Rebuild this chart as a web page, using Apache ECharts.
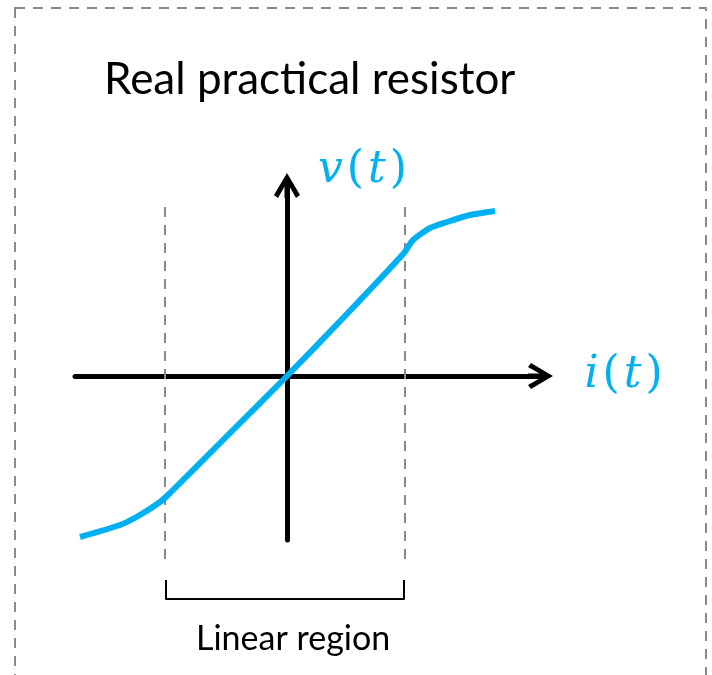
<!DOCTYPE html>
<html>
<head>
<meta charset="utf-8">
<script src="https://cdn.jsdelivr.net/npm/echarts@6/dist/echarts.min.js"></script>
<style>
  html, body { margin: 0; padding: 0; background: #fff; }
  #chart { width: 712px; height: 675px; }
</style>
</head>
<body>
<div id="chart"></div>
<script>
// i-v characteristic (arbitrary units, origin at the axes crossing)
const curveI = [-2.07, -1.67, -1.47, -1.27, -1.17, -0.62, 0, 0.58, 1.17, 1.26, 1.43, 1.60, 1.83, 2.08];
const curveV = [-1.61, -1.49, -1.39, -1.26, -1.17, -0.62, 0, 0.60, 1.23, 1.36, 1.48, 1.54, 1.61, 1.65];

// limits of the linear region (dashed guides) and their vertical span
const regionI = [-1.22, 1.18];
const guideV = [1.69, -1.89];

// bracket under the linear region
const bracketI = [-1.21, 1.17];
const bracketV = [-2.04, -2.23];

const titleText = 'Real practical resistor';
const regionText = 'Linear region';

const BLUE = '#00B0F0';
const GREY = '#8a8a8a';

// chevron arrow head, with a short stem so it joins the axis line
const arrowPath = 'path://M13,0 L26,22 L22,25 L15.5,13.5 L15.5,25 L10.5,25 L10.5,13.5 L4,25 L0,22 Z';

const chart = echarts.init(document.getElementById('chart'));

const guideSeries = regionI.map((x) => ({
  type: 'line',
  data: [[x, guideV[0]], [x, guideV[1]]],
  showSymbol: false,
  clip: false,
  silent: true,
  z: 1,
  lineStyle: { color: GREY, width: 2, type: [10, 8] }
}));

const mathName = (a) => `{it|${a}}{n|(}{it|t}{n|)}`;
const mathRich = {
  it: { fontFamily: 'DejaVu Serif', fontStyle: 'italic', fontSize: 44, color: BLUE, padding: [0, 2, 0, 2] },
  n: { fontFamily: 'DejaVu Serif', fontSize: 44, color: BLUE, padding: [0, 2, 0, 2] }
};

const option = {
  animation: false,
  backgroundColor: '#fff',
  title: [
    {
      text: titleText,
      left: 99,
      top: 53,
      textStyle: { fontFamily: 'Lato', fontSize: 44, fontWeight: 'normal', color: '#000' }
    },
    {
      text: regionText,
      left: 191,
      top: 617,
      textStyle: { fontFamily: 'Lato', fontSize: 34, fontWeight: 'normal', color: '#000' }
    }
  ],
  graphic: [
    {
      type: 'rect',
      shape: { x: 15, y: 8, width: 691, height: 700 },
      style: { fill: 'none', stroke: GREY, lineWidth: 2, lineDash: [10, 8] },
      silent: true
    }
  ],
  grid: { left: 75, right: 171.5, top: 185.5, bottom: 135 },
  xAxis: {
    type: 'value',
    min: -2.12,
    max: 2.535,
    name: mathName('i'),
    nameLocation: 'end',
    nameGap: 42,
    nameTextStyle: { rich: mathRich, verticalAlign: 'middle' },
    axisLine: {
      onZero: true,
      symbol: ['none', arrowPath],
      symbolSize: [26, 25],
      lineStyle: { color: '#000', width: 5 }
    },
    axisTick: { show: false },
    axisLabel: { show: false },
    splitLine: { show: false }
  },
  yAxis: {
    type: 'value',
    min: -1.64,
    max: 1.905,
    name: mathName('v'),
    nameLocation: 'end',
    nameGap: 15,
    nameTextStyle: { rich: mathRich, align: 'left', verticalAlign: 'middle', padding: [0, 0, 0, 29] },
    axisLine: {
      onZero: true,
      symbol: ['none', arrowPath],
      symbolSize: [26, 25],
      lineStyle: { color: '#000', width: 5 }
    },
    axisTick: { show: false },
    axisLabel: { show: false },
    splitLine: { show: false }
  },
  series: [
    ...guideSeries,
    {
      type: 'line',
      data: [
        [bracketI[0], bracketV[0]],
        [bracketI[0], bracketV[1]],
        [bracketI[1], bracketV[1]],
        [bracketI[1], bracketV[0]]
      ],
      showSymbol: false,
      clip: false,
      silent: true,
      z: 1,
      lineStyle: { color: '#000', width: 2, join: 'round' }
    },
    {
      type: 'line',
      data: curveI.map((x, k) => [x, curveV[k]]),
      showSymbol: false,
      smooth: 0.2,
      clip: false,
      z: 5,
      lineStyle: { color: BLUE, width: 6 }
    }
  ]
};

chart.setOption(option);
</script>
</body>
</html>
